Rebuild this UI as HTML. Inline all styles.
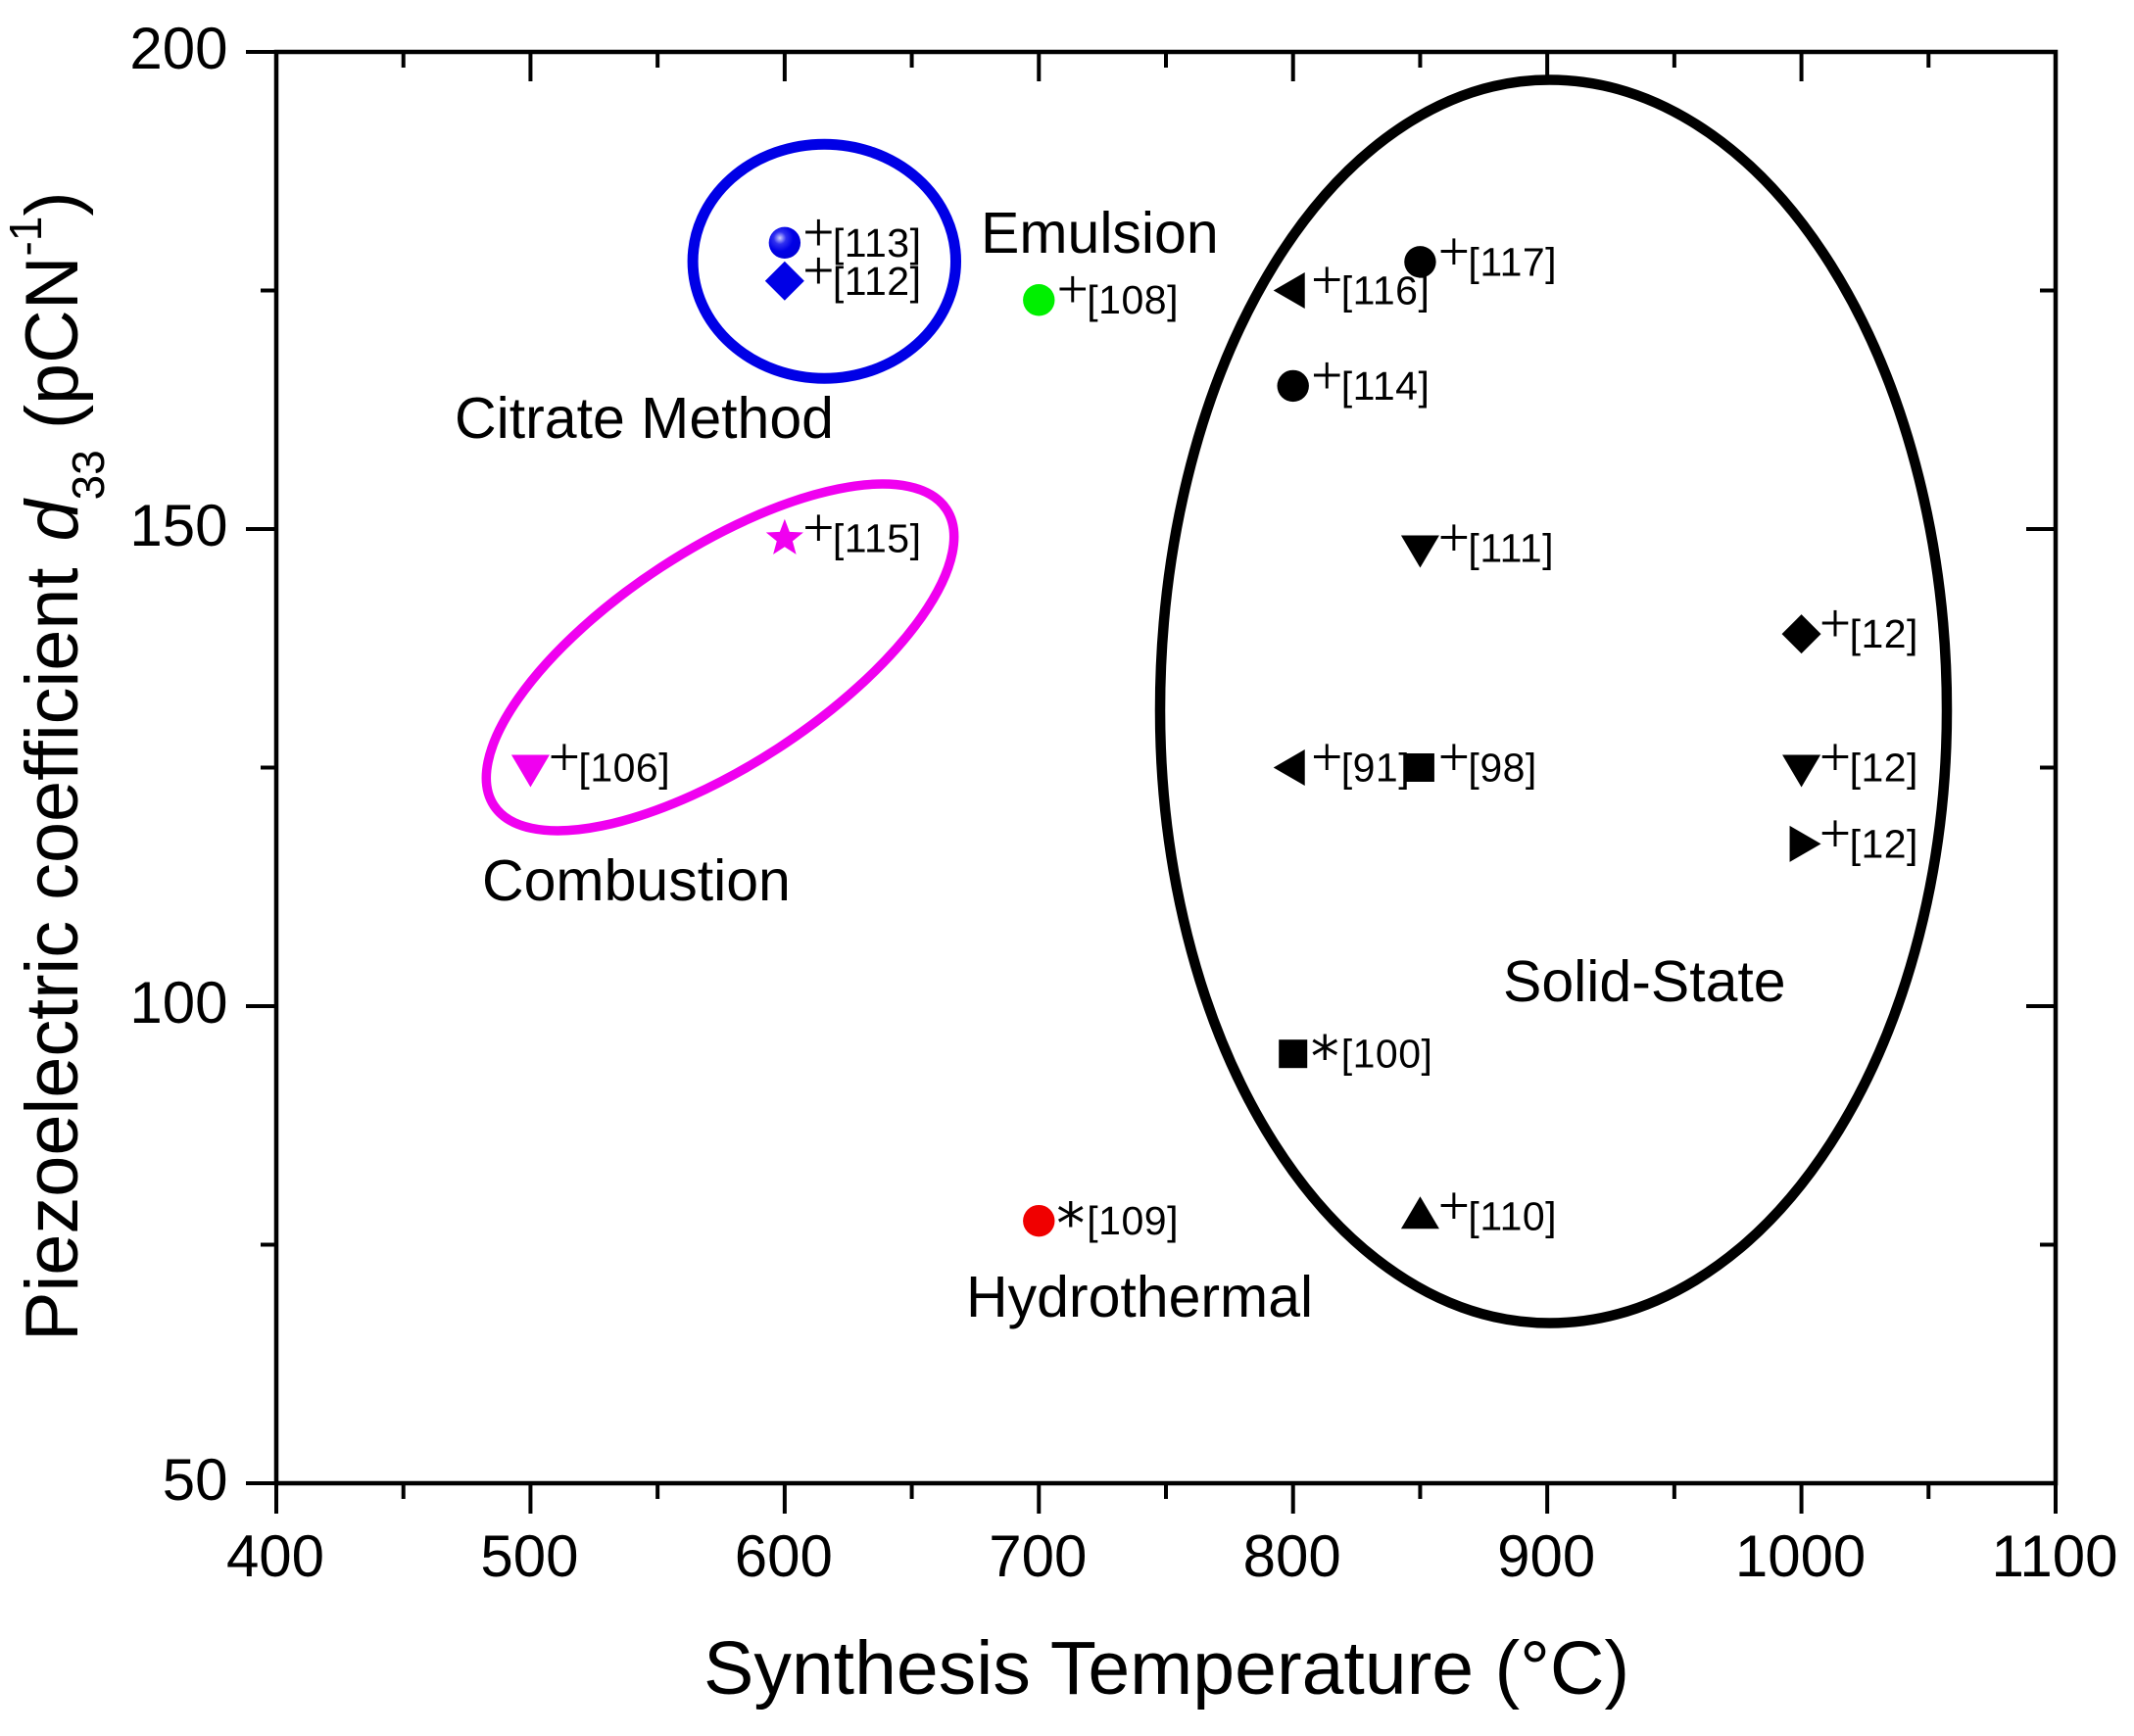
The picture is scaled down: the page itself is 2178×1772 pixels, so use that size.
<!DOCTYPE html>
<html lang="en">
<head>
<meta charset="utf-8">
<title>Piezoelectric coefficient vs synthesis temperature</title>
<style>
html,body{margin:0;padding:0;background:#fff;}
svg{display:block;}
text{font-family:"Liberation Sans",Arial,sans-serif;fill:#000;}
</style>
</head>
<body>
<svg id="chart" xmlns="http://www.w3.org/2000/svg" width="2178" height="1772" viewBox="0 0 2178 1772">
  <defs>
    <radialGradient id="sphere" cx="35%" cy="35%" r="70%">
      <stop offset="0" stop-color="#d0d0ff"/>
      <stop offset="0.28" stop-color="#3030f0"/>
      <stop offset="0.6" stop-color="#0000e6"/>
      <stop offset="1" stop-color="#0000d8"/>
    </radialGradient>
  </defs>
  <rect width="2178" height="1772" fill="#fff"/>

  <ellipse cx="841.3" cy="266.7" rx="134.2" ry="119.5" fill="none" stroke="#0000e6" stroke-width="11"/>
  <ellipse cx="0" cy="0" rx="276" ry="110" transform="translate(735 671) rotate(-33.2)" fill="none" stroke="#f000f0" stroke-width="9.5"/>
  <path d="M1184 725 A397.5 643.5 0 0 1 1581.5 81.5 A405.5 643.5 0 0 1 1987 725 A405.5 625.5 0 0 1 1581.5 1350.5 A397.5 625.5 0 0 1 1184 725 Z" fill="none" stroke="#000" stroke-width="10.5"/>

  <g id="axes"></g>
  <g id="marks"></g>

  <text x="1001" y="258" font-size="59">Emulsion</text>
  <text x="464" y="447" font-size="59">Citrate Method</text>
  <text x="492" y="919" font-size="59">Combustion</text>
  <text x="986" y="1344" font-size="59">Hydrothermal</text>
  <text x="1534" y="1022" font-size="59">Solid-State</text>

  <text x="718" y="1729" font-size="77">Synthesis Temperature (°C)</text>
  <text transform="translate(79 1369) rotate(-90)" font-size="75.7" xml:space="preserve">Piezoelectric coefficient <tspan font-style="italic" dx="6">d</tspan><tspan font-size="46" dy="27">33</tspan><tspan dy="-27"> (pCN</tspan><tspan font-size="46" dy="-37">-1</tspan><tspan dy="37">)</tspan></text>
</svg>
<script>
const xMajorTicks = [400, 500, 600, 700, 800, 900, 1000, 1100];
const xMinorTicks = [450, 550, 650, 750, 850, 950, 1050];
const yMajorTicks = [50, 100, 150, 200];
const yMinorTicks = [75, 125, 175];

const pointRefs    = ['113', '112', '108', '117', '116', '114', '111', '12', '91', '98', '12', '12', '115', '106', '100', '110', '109'];
const pointTemps   = [600, 600, 700, 850, 800, 800, 850, 1000, 800, 850, 1000, 1000, 600, 500, 800, 850, 700];
const pointD33     = [180, 176, 174, 178, 175, 165, 148, 139, 125, 125, 125, 117, 149, 125, 95, 78, 77.5];
const pointShapes  = ['sphere', 'diamond', 'circle', 'circle', 'left', 'circle', 'down', 'diamond', 'left', 'square', 'down', 'right', 'star', 'down', 'square', 'up', 'circle'];
const pointColors  = ['blue', 'blue', 'green', 'black', 'black', 'black', 'black', 'black', 'black', 'black', 'black', 'black', 'magenta', 'magenta', 'black', 'black', 'red'];
const pointSymbols = ['+', '+', '+', '+', '+', '+', '+', '+', '+', '+', '+', '+', '+', '+', '*', '+', '*'];

const colorMap = {blue: '#0000e6', green: '#00f000', black: '#000', magenta: '#f000f0', red: '#f00000'};
const NS = 'http://www.w3.org/2000/svg';
const plot = {left: 282, right: 2098, top: 53, bottom: 1514};
const xDomain = [400, 1100];
const yDomain = [50, 200];

function xScale(v) { return plot.left + (v - xDomain[0]) / (xDomain[1] - xDomain[0]) * (plot.right - plot.left); }
function yScale(v) { return plot.bottom - (v - yDomain[0]) / (yDomain[1] - yDomain[0]) * (plot.bottom - plot.top); }
function make(tag, attrs, parent) {
  const el = document.createElementNS(NS, tag);
  for (const k in attrs) el.setAttribute(k, attrs[k]);
  parent.appendChild(el);
  return el;
}

const axes = document.getElementById('axes');
const marks = document.getElementById('marks');

const frame = make('rect', {x: plot.left, y: plot.top, width: plot.right - plot.left, height: plot.bottom - plot.top, fill: 'none', stroke: '#000', 'stroke-width': 4.5}, axes);



function tickLine(x1, y1, x2, y2, name) {
  const t = make('line', {x1: x1, y1: y1, x2: x2, y2: y2, stroke: '#000', 'stroke-width': 4}, axes);
  
  
}
xMajorTicks.forEach(function (v) {
  const x = xScale(v);
  tickLine(x, plot.bottom, x, plot.bottom + 31, 'x-major-tick-' + v);
  tickLine(x, plot.top, x, plot.top + 30, 'x-top-tick-' + v);
  const l = make('text', {x: x - 1, y: 1609, 'font-size': 60, 'text-anchor': 'middle'}, axes);
  l.textContent = String(v);
  
  
});
xMinorTicks.forEach(function (v) {
  const x = xScale(v);
  tickLine(x, plot.bottom, x, plot.bottom + 16, 'x-minor-tick-' + v);
  tickLine(x, plot.top, x, plot.top + 16, 'x-top-minor-tick-' + v);
});
yMajorTicks.forEach(function (v) {
  const y = yScale(v);
  tickLine(plot.left - 31, y, plot.left, y, 'y-major-tick-' + v);
  tickLine(plot.right - 30, y, plot.right, y, 'y-right-tick-' + v);
  const l = make('text', {x: 232.5, y: y + 17, 'font-size': 60, 'text-anchor': 'end'}, axes);
  l.textContent = String(v);
  
  
});
yMinorTicks.forEach(function (v) {
  const y = yScale(v);
  tickLine(plot.left - 16, y, plot.left, y, 'y-minor-tick-' + v);
  tickLine(plot.right - 16, y, plot.right, y, 'y-right-minor-tick-' + v);
});

function drawMarker(shape, cx, cy, fill, parent) {
  if (shape === 'circle' || shape === 'sphere') {
    return make('circle', {cx: cx, cy: cy, r: 16.2, fill: fill}, parent);
  }
  if (shape === 'square') {
    return make('rect', {x: cx - 14.5, y: cy - 14.5, width: 29, height: 29, fill: fill}, parent);
  }
  let pts;
  if (shape === 'diamond') pts = [[0, -20], [20, 0], [0, 20], [-20, 0]];
  if (shape === 'down') pts = [[-19.5, -13], [19.5, -13], [0, 20]];
  if (shape === 'up') pts = [[-19.5, 13], [19.5, 13], [0, -20]];
  if (shape === 'left') pts = [[-20, 0], [12, -18.5], [12, 18.5]];
  if (shape === 'right') pts = [[20, 0], [-12, -18.5], [-12, 18.5]];
  if (shape === 'star') {
    pts = [];
    for (let i = 0; i < 10; i++) {
      const a = -Math.PI / 2 + i * Math.PI / 5;
      const r = i % 2 ? 8.5 : 20;
      pts.push([r * Math.cos(a), r * Math.sin(a)]);
    }
  }
  return make('polygon', {points: pts.map(function (p) { return (cx + p[0]) + ',' + (cy + p[1]); }).join(' '), fill: fill}, parent);
}

pointRefs.forEach(function (ref, i) {
  const cx = xScale(pointTemps[i]);
  const cy = yScale(pointD33[i]);
  const g = make('g', {}, marks);
  
  
  const fill = pointShapes[i] === 'sphere' ? 'url(#sphere)' : colorMap[pointColors[i]];

  const sym = make('text', pointSymbols[i] === '+'
    ? {x: cx + 34.5, y: cy + 8, 'font-size': 57, 'text-anchor': 'middle', stroke: '#fff', 'stroke-width': 1.1}
    : {x: cx + 32.5, y: cy + 23, 'font-size': 58, 'text-anchor': 'middle', style: 'font-family:"DejaVu Sans",sans-serif'}, g);
  sym.textContent = pointSymbols[i];
  
  

  const lab = make('text', {x: cx + 49, y: cy + 14, 'font-size': 41, 'letter-spacing': 0.5}, g);
  lab.textContent = '[' + ref + ']';
  
  

  const m = drawMarker(pointShapes[i], cx, cy, fill, g);
  
  
});
</script>
</body>
</html>
